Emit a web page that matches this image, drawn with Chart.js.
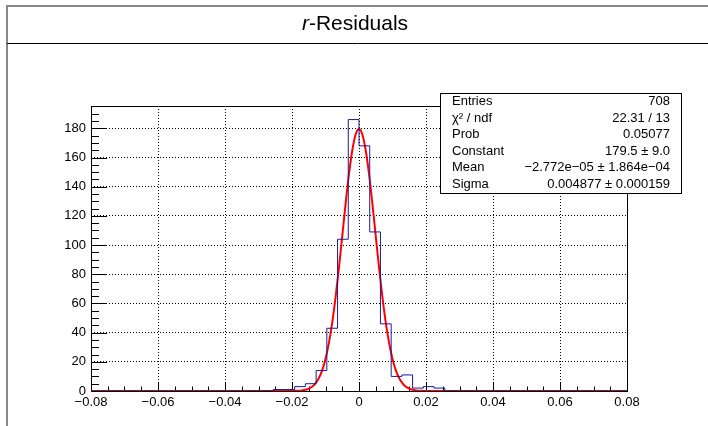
<!DOCTYPE html>
<html>
<head>
<meta charset="utf-8">
<script src="https://cdn.jsdelivr.net/npm/chart.js@4.4.0/dist/chart.umd.min.js"></script>
<style>
body { margin: 0; background: #fff; }
canvas { display: block; }
</style>
</head>
<body>
<canvas id="residuosChart" width="708" height="426"></canvas>
<script>
// Histograma: 50 bins de -0.08 a 0.08
const xMin = -0.08;
const xMax = 0.08;
const yMax = 195.3;
const binCounts = [
    0, 0, 0, 0, 0, 0, 0, 0, 0, 0,
    0, 0, 0, 0, 0, 0, 0, 1, 1, 3,
    5, 14, 43, 104, 186, 168, 109, 46, 10, 11,
    2, 3, 2, 0, 0, 0, 0, 0, 0, 0,
    0, 0, 0, 0, 0, 0, 0, 0, 0, 0
];

// Curva do ajuste gaussiano
const fitX = [
    -0.08, -0.02, -0.019, -0.018, -0.017, -0.016, -0.015, -0.014, -0.013, -0.012, -0.011,
    -0.010, -0.009, -0.008, -0.007, -0.006, -0.005, -0.004, -0.003, -0.002, -0.001,
    0, 0.001, 0.002, 0.003, 0.004, 0.005, 0.006, 0.007, 0.008, 0.009, 0.010,
    0.011, 0.012, 0.013, 0.014, 0.015, 0.016, 0.017, 0.018, 0.019, 0.02, 0.08
];
const fitY = [
    0, 0, 0.1, 0.2, 0.4, 0.8, 1.6, 2.9, 5.2, 8.7, 14.1,
    22.0, 32.8, 46.7, 64.1, 84.2, 106.2, 128.3, 148.6, 165.0, 175.8,
    179.5, 175.8, 165.0, 148.6, 128.3, 106.2, 84.2, 64.1, 46.7, 32.8, 22.0,
    14.1, 8.7, 5.2, 2.9, 1.6, 0.8, 0.4, 0.2, 0.1, 0, 0
];

// Rótulos dos eixos
const xTicks = [-0.08, -0.06, -0.04, -0.02, 0, 0.02, 0.04, 0.06, 0.08];
const yTicks = [0, 20, 40, 60, 80, 100, 120, 140, 160, 180];

// Caixa de estatísticas
const statsLabels = ['Entries', 'χ² / ndf', 'Prob', 'Constant', 'Mean', 'Sigma'];
const statsValues = ['708', '22.31 / 13', '0.05077', '179.5 ± 9.0', '−2.772e−05 ± 1.864e−04', '0.004877 ± 0.000159'];

const FONTE = '"Liberation Sans", Arial, Helvetica, sans-serif';

function pontosHistograma() {
    const largura = (xMax - xMin) / binCounts.length;
    const pts = binCounts.map((c, i) => ({ x: xMin + i * largura, y: c }));
    pts.push({ x: xMax, y: binCounts[binCounts.length - 1] });
    return pts;
}

function formatarX(v) {
    if (Math.abs(v) < 1e-9) return '0';
    return v.toFixed(2).replace('-', '−');
}

const estiloRoot = {
    id: 'estiloRoot',
    beforeDatasetsDraw(chart) {
        const { ctx, chartArea: a, scales: { x, y } } = chart;
        ctx.save();
        ctx.strokeStyle = '#000';
        ctx.lineWidth = 1;
        ctx.beginPath();
        // marcas do eixo x
        for (let i = 0; i <= 32; i++) {
            const px = Math.round(x.getPixelForValue(xMin + i * 0.005)) + 0.5;
            ctx.moveTo(px, a.bottom);
            ctx.lineTo(px, a.bottom - (i % 4 === 0 ? 9 : 4.5));
        }
        // marcas do eixo y
        for (let i = 0; i * 5 < yMax - 1; i++) {
            const py = Math.round(y.getPixelForValue(i * 5)) + 0.5;
            ctx.moveTo(a.left, py);
            ctx.lineTo(a.left + (i % 4 === 0 ? 16 : 8), py);
        }
        ctx.stroke();
        // moldura
        ctx.strokeRect(Math.round(a.left) + 0.5, Math.round(a.top) + 0.5,
            Math.round(a.right - a.left), Math.round(a.bottom - a.top));
        ctx.restore();
    },
    afterDraw(chart) {
        const { ctx } = chart;
        ctx.save();
        // moldura externa
        ctx.strokeStyle = '#888';
        ctx.lineWidth = 2;
        ctx.beginPath();
        ctx.moveTo(7, 426);
        ctx.lineTo(7, 6);
        ctx.lineTo(708, 6);
        ctx.stroke();
        ctx.strokeStyle = '#000';
        ctx.lineWidth = 1;
        ctx.beginPath();
        ctx.moveTo(7, 43.5);
        ctx.lineTo(708, 43.5);
        ctx.stroke();

        // título
        ctx.fillStyle = '#000';
        ctx.textBaseline = 'alphabetic';
        ctx.font = 'italic 21px ' + FONTE;
        const wR = ctx.measureText('r').width;
        ctx.font = '21px ' + FONTE;
        const wResto = ctx.measureText('-Residuals').width;
        const x0 = 355 - (wR + wResto) / 2;
        ctx.font = 'italic 21px ' + FONTE;
        ctx.fillText('r', x0, 30);
        ctx.font = '21px ' + FONTE;
        ctx.fillText('-Residuals', x0 + wR, 30);

        // caixa de estatísticas
        ctx.fillStyle = '#fff';
        ctx.fillRect(440, 93, 242, 100);
        ctx.strokeStyle = '#000';
        ctx.strokeRect(440.5, 93.5, 241, 100);
        ctx.fillStyle = '#000';
        ctx.font = '13px ' + FONTE;
        ctx.textBaseline = 'middle';
        statsLabels.forEach((rotulo, i) => {
            const py = 101.5 + i * 16.6;
            ctx.textAlign = 'left';
            ctx.fillText(rotulo, 452, py);
            ctx.textAlign = 'right';
            ctx.fillText(statsValues[i], 670, py);
        });
        ctx.restore();
    }
};

function inicializarGrafico() {
    const ctx = document.getElementById('residuosChart').getContext('2d');
    new Chart(ctx, {
        type: 'line',
        data: {
            datasets: [{
                label: 'Resíduos',
                data: pontosHistograma(),
                stepped: 'before',
                borderColor: '#1a1a9c',
                borderWidth: 1,
                pointRadius: 0,
                fill: false
            }, {
                label: 'Ajuste',
                data: fitX.map((v, i) => ({ x: v, y: fitY[i] })),
                borderColor: '#ff0000',
                borderWidth: 2,
                pointRadius: 0,
                cubicInterpolationMode: 'monotone',
                fill: false
            }]
        },
        options: {
            responsive: false,
            animation: false,
            devicePixelRatio: 1,
            layout: { padding: { left: 0, top: 106, right: 81, bottom: 0 } },
            plugins: {
                legend: { display: false },
                tooltip: { enabled: false }
            },
            scales: {
                x: {
                    type: 'linear',
                    min: xMin,
                    max: xMax,
                    afterBuildTicks: (s) => { s.ticks = xTicks.map(v => ({ value: v })); },
                    afterFit: (s) => { s.height = 35; s.paddingLeft = 0; s.paddingRight = 0; },
                    grid: { color: '#000', lineWidth: 1, drawTicks: false },
                    border: { display: false, dash: [1, 2] },
                    ticks: {
                        color: '#000',
                        padding: 4,
                        maxRotation: 0,
                        autoSkip: false,
                        font: { family: FONTE, size: 13 },
                        callback: (v) => formatarX(v)
                    }
                },
                y: {
                    min: 0,
                    max: yMax,
                    afterBuildTicks: (s) => { s.ticks = yTicks.map(v => ({ value: v })); },
                    afterFit: (s) => { s.width = 91; s.paddingTop = 0; s.paddingBottom = 0; },
                    grid: { color: '#000', lineWidth: 1, drawTicks: false },
                    border: { display: false, dash: [1, 2] },
                    ticks: {
                        color: '#000',
                        padding: 5,
                        autoSkip: false,
                        font: { family: FONTE, size: 13 },
                        callback: (v) => String(v)
                    }
                }
            }
        },
        plugins: [estiloRoot]
    });
}

document.addEventListener('DOMContentLoaded', () => {
    inicializarGrafico();
});
</script>
</body>
</html>
